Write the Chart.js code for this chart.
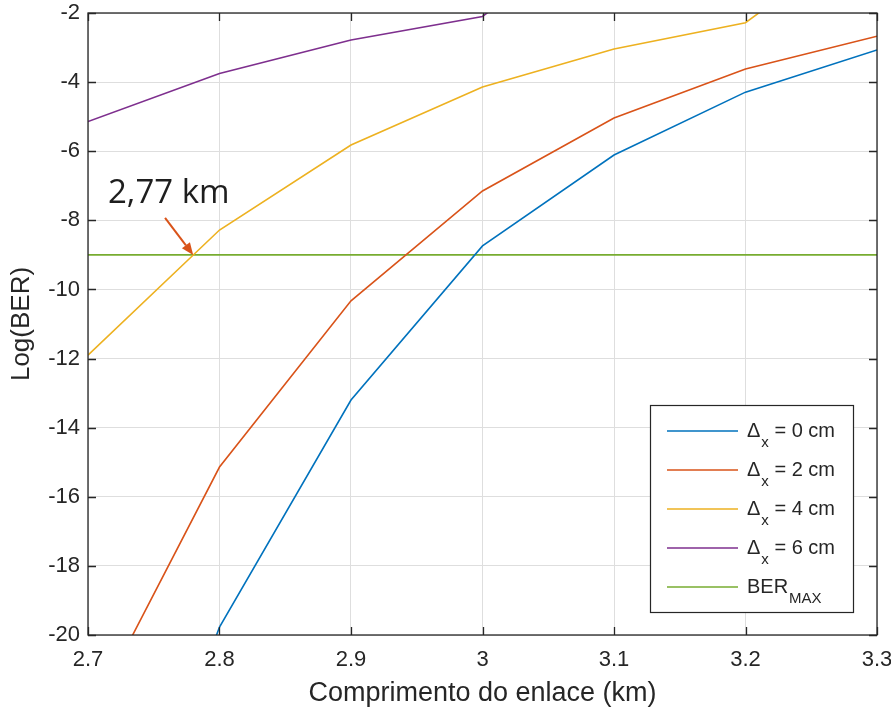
<!DOCTYPE html>
<html><head><meta charset="utf-8">
<script src="https://cdn.jsdelivr.net/npm/chart.js@4/dist/chart.umd.min.js"></script>
<style>html,body{margin:0;padding:0;background:#fff;}#wrap{width:891px;height:715px;}</style>
</head><body><div id="wrap"><canvas id="c" width="891" height="715"></canvas></div>
<script>
// ---- data ----
const xValues = [2.7, 2.8, 2.9, 3.0, 3.1, 3.2, 3.3];
const berDx0 = [-30.0, -19.77, -13.2, -8.74, -6.11, -4.29, -3.07];
const berDx2 = [-22.5, -15.14, -10.33, -7.15, -5.04, -3.62, -2.67];
const berDx4 = [-11.9, -8.28, -5.82, -4.14, -3.04, -2.28, 0.5];
const berDx6 = [-5.14, -3.75, -2.78, -2.1, 0.8, 2.0, 3.0];
const berMaxLine = [-9, -9, -9, -9, -9, -9, -9];
const dxLabels = ['0', '2', '4', '6'];
const xTicks = [2.7, 2.8, 2.9, 3.0, 3.1, 3.2, 3.3];
const yTicks = [-20, -18, -16, -14, -12, -10, -8, -6, -4, -2];
const annotText = '2,77 km';
const annotPoint = [2.78, -9];

const colors = ['#0072BD', '#D95319', '#EDB120', '#7E2F8E', '#77AC30'];
const AXC = '#262626';

function pts(arr) { return xValues.map((x, i) => ({x: x, y: arr[i]})); }
const seriesArr = [berDx0, berDx2, berDx4, berDx6];
const datasets = seriesArr.map((s, i) => ({
  label: 'Δx = ' + dxLabels[i] + ' cm',
  lgMain: 'Δ', lgSub: 'x', lgRest: ' = ' + dxLabels[i] + ' cm',
  data: pts(s), borderColor: colors[i], backgroundColor: colors[i],
  borderWidth: 1.6, pointRadius: 0, tension: 0, fill: false
}));
datasets.push({
  label: 'BERMAX', lgMain: 'BER', lgSub: 'MAX', lgRest: '',
  data: pts(berMaxLine), borderColor: colors[4], backgroundColor: colors[4],
  borderWidth: 1.6, pointRadius: 0, tension: 0, fill: false
});

const frame = {
  id: 'frame',
  afterDraw(chart) {
    const {ctx, chartArea: a, scales} = chart;
    const xs = scales.x, ys = scales.y;
    ctx.save();
    // annotation
    const tipX = xs.getPixelForValue(annotPoint[0]);
    const tipY = ys.getPixelForValue(annotPoint[1]);
    const sx = xs.getPixelForValue(2.7586), sy = ys.getPixelForValue(-7.93);
    ctx.strokeStyle = colors[1]; ctx.fillStyle = colors[1]; ctx.lineWidth = 2;
    const ang = Math.atan2(tipY - sy, tipX - sx);
    const hl = 12, hw = 5;
    const bx = tipX - hl * Math.cos(ang), by = tipY - hl * Math.sin(ang);
    ctx.beginPath(); ctx.moveTo(sx, sy); ctx.lineTo(bx, by); ctx.stroke();
    ctx.beginPath(); ctx.moveTo(tipX, tipY);
    ctx.lineTo(bx + hw * Math.sin(ang), by - hw * Math.cos(ang));
    ctx.lineTo(bx - hw * Math.sin(ang), by + hw * Math.cos(ang));
    ctx.closePath(); ctx.fill();
    ctx.fillStyle = '#1e1e1e';
    ctx.font = '33px "Open Sans"';
    ctx.textAlign = 'left'; ctx.textBaseline = 'alphabetic';
    ctx.fillText(annotText, xs.getPixelForValue(2.7152), ys.getPixelForValue(-7.5));
    // box
    ctx.strokeStyle = AXC; ctx.lineWidth = 1.3;
    ctx.strokeRect(a.left, a.top, a.right - a.left, a.bottom - a.top);
    const tl = 8;
    ctx.beginPath();
    xTicks.forEach(v => {
      const p = Math.round(xs.getPixelForValue(v)) + 0.5;
      ctx.moveTo(p, a.bottom); ctx.lineTo(p, a.bottom - tl);
      ctx.moveTo(p, a.top); ctx.lineTo(p, a.top + tl);
    });
    yTicks.forEach(v => {
      const p = Math.round(ys.getPixelForValue(v)) + 0.5;
      ctx.moveTo(a.left, p); ctx.lineTo(a.left + tl, p);
      ctx.moveTo(a.right, p); ctx.lineTo(a.right - tl, p);
    });
    ctx.stroke();
    // legend
    const L = a.right - 24 - 203, T = a.bottom - 23 - 207;
    ctx.fillStyle = '#fff';
    ctx.fillRect(L, T, 203, 207);
    ctx.lineWidth = 1.2; ctx.strokeStyle = AXC;
    ctx.strokeRect(L + 0.5, T + 0.5, 203, 207);
    chart.data.datasets.forEach((ds, i) => {
      const y = T + 26 + i * 39;
      ctx.strokeStyle = ds.borderColor; ctx.lineWidth = 1.6;
      ctx.beginPath(); ctx.moveTo(L + 17, y); ctx.lineTo(L + 88, y); ctx.stroke();
      ctx.fillStyle = AXC;
      let tx = L + 97;
      ctx.font = '20px "Liberation Sans"';
      ctx.fillText(ds.lgMain, tx, y + 6);
      tx += ctx.measureText(ds.lgMain).width + 1;
      ctx.font = '15px "Liberation Sans"';
      ctx.fillText(ds.lgSub, tx, y + 16);
      tx += ctx.measureText(ds.lgSub).width;
      ctx.font = '20px "Liberation Sans"';
      if (ds.lgRest) ctx.fillText(ds.lgRest, tx, y + 6);
    });
    ctx.restore();
  }
};

new Chart(document.getElementById('c'), {
  type: 'line',
  data: {datasets: datasets},
  plugins: [frame],
  options: {
    responsive: false, animation: false, devicePixelRatio: 1,
    layout: {padding: {top: 13, right: 14, left: 0, bottom: 0}},
    plugins: {legend: {display: false}, tooltip: {enabled: false}},
    scales: {
      x: {
        type: 'linear', min: 2.7, max: 3.3,
        afterBuildTicks: s => { s.ticks = xTicks.map(v => ({value: v})); },
        afterFit: s => { s.height = 80; s.paddingLeft = 0; s.paddingRight = 0; },
        ticks: {color: AXC, padding: 12, font: {family: 'Liberation Sans', size: 22},
          callback: v => String(+(+v).toFixed(1)), maxRotation: 0, autoSkip: false},
        grid: {color: '#dedede', lineWidth: 1, drawTicks: false},
        border: {display: false},
        title: {display: true, text: 'Comprimento do enlace (km)', color: AXC,
          font: {family: 'Liberation Sans', size: 27}, padding: {top: 0, bottom: 5}}
      },
      y: {
        type: 'linear', min: -20, max: -2,
        afterBuildTicks: s => { s.ticks = yTicks.map(v => ({value: v})); },
        afterFit: s => { s.width = 88; s.paddingTop = 0; s.paddingBottom = 0; },
        ticks: {color: AXC, padding: 8, font: {family: 'Liberation Sans', size: 22},
          callback: v => String(v), autoSkip: false},
        grid: {color: '#dedede', lineWidth: 1, drawTicks: false},
        border: {display: false},
        title: {display: true, text: 'Log(BER)', color: AXC,
          font: {family: 'Liberation Sans', size: 26}, padding: {top: 6, bottom: 0}}
      }
    }
  }
});
</script></body></html>
